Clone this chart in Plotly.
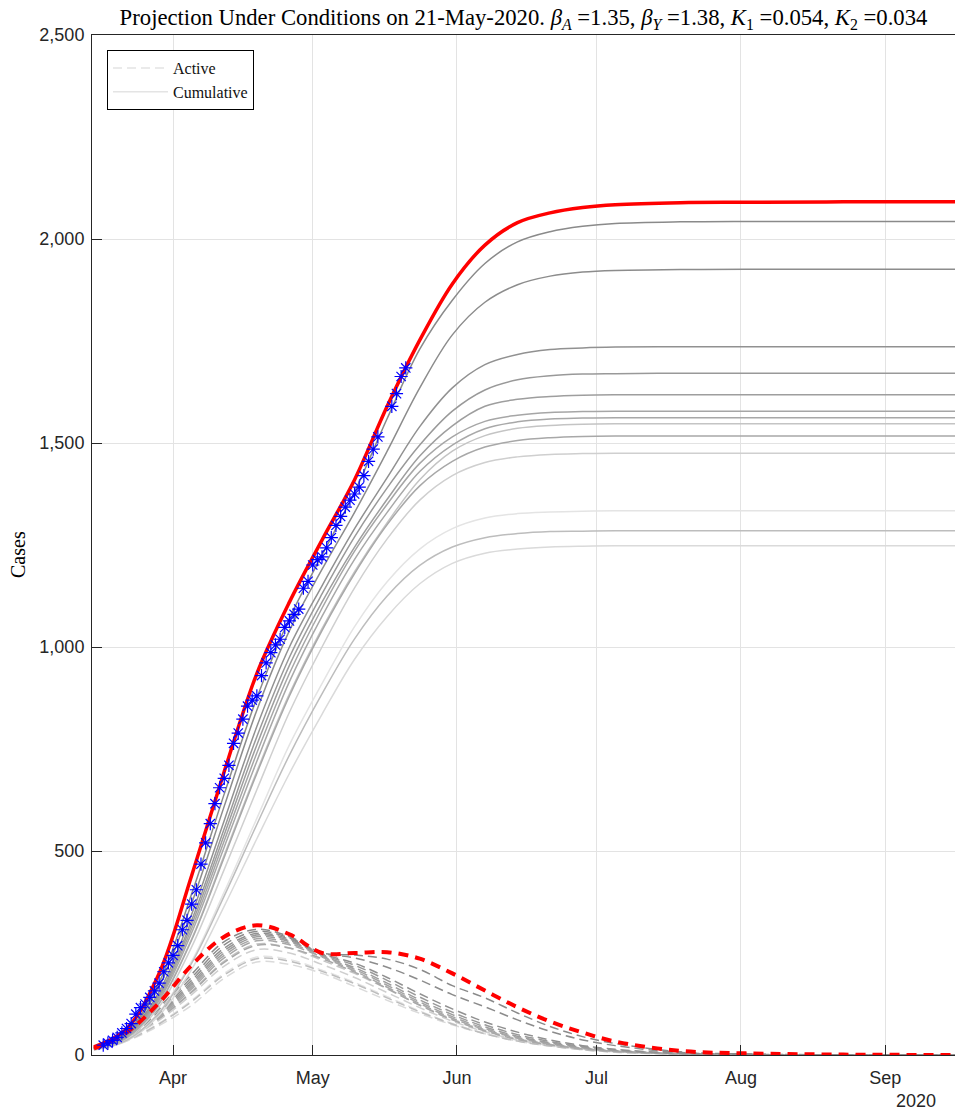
import plotly.graph_objects as go

# ---------------- data ----------------
grid_dates = ["2020-03-15", "2020-03-22", "2020-03-29", "2020-04-05", "2020-04-12",
              "2020-04-19", "2020-04-26", "2020-05-03", "2020-05-10", "2020-05-17",
              "2020-05-24", "2020-05-31", "2020-06-07", "2020-06-14", "2020-06-21",
              "2020-06-28", "2020-07-05", "2020-07-19", "2020-08-02", "2020-08-23",
              "2020-09-16"]

# latest projection (21-May-2020), red
red_cum = [20, 64, 200, 440, 695, 935, 1110, 1262, 1410, 1590, 1752, 1890, 1985, 2040,
           2064, 2077, 2084, 2089, 2090, 2091, 2091]
red_act = [16, 55, 128, 220, 290, 318, 296, 250, 250, 252, 236, 200, 158, 117, 82, 55,
           33, 10, 4, 1, 0]

# earlier projections, cumulative (grey solid)
cum_g01 = [18, 56, 178, 395, 640, 875, 1070, 1225, 1380, 1560, 1730, 1850, 1940, 1993, 2018, 2031, 2038, 2042, 2043, 2043, 2043]
cum_g02 = [17, 53, 168, 372, 610, 845, 1040, 1190, 1330, 1480, 1635, 1765, 1845, 1888, 1909, 1919, 1923, 1925, 1926, 1926, 1926]
cum_g03 = [17, 50, 155, 345, 575, 805, 1000, 1150, 1290, 1415, 1540, 1635, 1692, 1717, 1729, 1733, 1735, 1736, 1736, 1736, 1736]
cum_g04 = [16, 48, 148, 330, 555, 780, 975, 1130, 1270, 1390, 1495, 1578, 1630, 1655, 1665, 1669, 1670, 1671, 1671, 1671, 1671]
cum_g05 = [16, 46, 143, 320, 540, 760, 955, 1110, 1245, 1362, 1468, 1542, 1590, 1607, 1614, 1617, 1618, 1618, 1618, 1618, 1618]
cum_g06 = [15, 45, 138, 310, 525, 740, 935, 1095, 1235, 1350, 1450, 1515, 1553, 1568, 1575, 1577, 1578, 1578, 1578, 1578, 1578]
cum_g07 = [15, 44, 134, 300, 510, 720, 915, 1075, 1215, 1330, 1430, 1495, 1535, 1552, 1559, 1561, 1562, 1562, 1562, 1562, 1562]
cum_g08 = [14, 42, 128, 285, 490, 695, 885, 1045, 1185, 1305, 1410, 1480, 1518, 1536, 1543, 1546, 1547, 1547, 1547, 1547, 1547]
cum_g09 = [14, 42, 126, 282, 485, 690, 880, 1040, 1180, 1300, 1395, 1455, 1490, 1506, 1513, 1516, 1517, 1517, 1517, 1517, 1517]
cum_g10 = [14, 40, 118, 265, 455, 650, 840, 1000, 1145, 1265, 1360, 1420, 1452, 1466, 1472, 1474, 1475, 1475, 1475, 1475, 1475]
cum_g11 = [13, 37, 105, 230, 400, 580, 760, 910, 1050, 1160, 1240, 1290, 1316, 1327, 1331, 1333, 1334, 1334, 1334, 1334, 1334]
cum_g12 = [13, 36, 103, 225, 390, 565, 735, 885, 1020, 1125, 1200, 1245, 1268, 1278, 1283, 1284, 1285, 1285, 1285, 1285, 1285]
cum_g13 = [12, 34, 97, 210, 365, 530, 690, 835, 970, 1075, 1155, 1205, 1230, 1240, 1245, 1247, 1248, 1248, 1248, 1248, 1248]

# earlier projections, active (grey dashed)
act_g01 = [16, 50, 118, 198, 278, 308, 290, 250, 245, 235, 210, 170, 140, 103, 70, 45, 28, 8, 2.5, 0.5, 0]
act_g02 = [16, 48, 112, 190, 270, 303, 287, 250, 238, 215, 184, 148, 118, 86, 58, 37, 23, 6, 2, 0.3, 0]
act_g03 = [15, 46, 106, 183, 262, 298, 284, 248, 225, 190, 150, 113, 81, 56, 37, 23, 14, 4, 1, 0, 0]
act_g04 = [15, 45, 102, 177, 256, 294, 281, 246, 220, 183, 142, 105, 74, 50, 33, 21, 12, 4, 1, 0, 0]
act_g05 = [15, 44, 99, 172, 250, 290, 278, 244, 214, 176, 135, 99, 69, 46, 30, 19, 11, 3, 1, 0, 0]
act_g06 = [14, 43, 96, 167, 244, 285, 274, 242, 210, 171, 130, 94, 65, 43, 28, 17, 10, 3, 1, 0, 0]
act_g07 = [14, 42, 93, 162, 238, 280, 270, 240, 206, 166, 126, 90, 62, 41, 26, 16, 9, 3, 1, 0, 0]
act_g08 = [14, 41, 90, 156, 230, 272, 262, 232, 200, 162, 123, 88, 61, 40, 26, 16, 9, 3, 1, 0, 0]
act_g09 = [14, 41, 89, 154, 227, 269, 262, 236, 203, 163, 122, 86, 59, 38, 25, 15, 9, 3, 1, 0, 0]
act_g10 = [13, 40, 85, 148, 218, 258, 250, 222, 190, 153, 116, 83, 57, 37, 24, 15, 8, 2, 1, 0, 0]
act_g11 = [13, 37, 78, 134, 200, 240, 234, 208, 178, 143, 108, 77, 53, 35, 22, 14, 8, 2, 0.5, 0, 0]
act_g12 = [13, 36, 76, 131, 196, 236, 230, 205, 175, 140, 106, 76, 52, 34, 22, 13, 7, 2, 0.5, 0, 0]
act_g13 = [12, 34, 72, 122, 188, 228, 222, 200, 168, 134, 102, 74, 52, 34, 22, 13, 7, 2, 0.5, 0, 0]

# observed cumulative cases (blue asterisks)
obs_dates = ["2020-03-17", "2020-03-18", "2020-03-19", "2020-03-20", "2020-03-21", "2020-03-22",
             "2020-03-23", "2020-03-24", "2020-03-25", "2020-03-26", "2020-03-27", "2020-03-28",
             "2020-03-29", "2020-03-30", "2020-03-31", "2020-04-01", "2020-04-02", "2020-04-03",
             "2020-04-04", "2020-04-05", "2020-04-06", "2020-04-07", "2020-04-08", "2020-04-09",
             "2020-04-10", "2020-04-11", "2020-04-12", "2020-04-13", "2020-04-14", "2020-04-15",
             "2020-04-16", "2020-04-17", "2020-04-18", "2020-04-19", "2020-04-20", "2020-04-21",
             "2020-04-22", "2020-04-23", "2020-04-24", "2020-04-25", "2020-04-26", "2020-04-27",
             "2020-04-28", "2020-04-29", "2020-04-30", "2020-05-01", "2020-05-02", "2020-05-03",
             "2020-05-04", "2020-05-05", "2020-05-06", "2020-05-07", "2020-05-08", "2020-05-09",
             "2020-05-10", "2020-05-11", "2020-05-12", "2020-05-13", "2020-05-14", "2020-05-15",
             "2020-05-18", "2020-05-19", "2020-05-20", "2020-05-21"]
obs_cases = [24, 29, 36, 43, 54, 65, 77, 100, 116, 125, 141, 157, 176, 204, 226, 244, 268, 307,
             330, 370, 405, 468, 520, 567, 616, 655, 678, 710, 764, 789, 823, 855, 870, 880,
             930, 961, 986, 1005, 1019, 1048, 1064, 1080, 1093, 1144, 1161, 1201, 1214, 1221,
             1243, 1268, 1298, 1320, 1343, 1360, 1375, 1392, 1420, 1455, 1485, 1515, 1590, 1621,
             1663, 1684]

month_ticks = ["2020-04-01", "2020-05-01", "2020-06-01", "2020-07-01", "2020-08-01", "2020-09-01"]
month_labels = ["Apr", "May", "Jun", "Jul", "Aug", "Sep"]
y_ticks = [0, 500, 1000, 1500, 2000, 2500]

cum_series = [cum_g01, cum_g02, cum_g03, cum_g04, cum_g05, cum_g06, cum_g07,
              cum_g08, cum_g09, cum_g10, cum_g11, cum_g12, cum_g13]
act_series = [act_g01, act_g02, act_g03, act_g04, act_g05, act_g06, act_g07,
              act_g08, act_g09, act_g10, act_g11, act_g12, act_g13]

# ---------------- styles ----------------
grey_colors = ["#8a8a8a", "#8c8c8c", "#919191", "#999999", "#9e9e9e", "#a6a6a6", "#a8a8a8",
               "#c4c4c4", "#a8a8a8", "#cfcfcf", "#e4e4e4", "#bdbdbd", "#dadada"]
legend_idx = 10
SERIF = "Liberation Serif"
SANS = "Liberation Sans"
AX = "#262626"

fig = go.Figure()

# draw lightest first, darker last
order = sorted(range(13), key=lambda i: -int(grey_colors[i][1:3], 16))
for i in order:
    fig.add_trace(go.Scatter(
        x=grid_dates, y=act_series[i], mode="lines",
        line=dict(color=grey_colors[i], width=1.5, dash="9px,5px", shape="spline", smoothing=1.0),
        name="Active", showlegend=(i == legend_idx), legendrank=1, hoverinfo="skip"))
for i in order:
    fig.add_trace(go.Scatter(
        x=grid_dates, y=cum_series[i], mode="lines",
        line=dict(color=grey_colors[i], width=1.5, shape="spline", smoothing=1.0),
        name="Cumulative", showlegend=(i == legend_idx), legendrank=2, hoverinfo="skip"))

fig.add_trace(go.Scatter(
    x=grid_dates, y=red_cum, mode="lines",
    line=dict(color="#ff0000", width=3.5, shape="spline", smoothing=1.0),
    showlegend=False, hoverinfo="skip"))
fig.add_trace(go.Scatter(
    x=grid_dates, y=red_act, mode="lines",
    line=dict(color="#ff0000", width=4, dash="10px,7px", shape="spline", smoothing=1.0),
    showlegend=False, hoverinfo="skip"))
fig.add_trace(go.Scatter(
    x=obs_dates, y=obs_cases, mode="markers",
    marker=dict(symbol="asterisk-open", size=11, color="#0000ff",
                line=dict(color="#0000ff", width=1.2)),
    showlegend=False, hoverinfo="skip"))

L, R, T, B = 92, 0, 35, 63
W, H = 955, 1118
pw, ph = W - L - R, H - T - B

fig.update_layout(
    width=W, height=H,
    margin=dict(l=L, r=R, t=T, b=B),
    paper_bgcolor="white", plot_bgcolor="white",
    title=dict(
        text=("Projection Under Conditions on 21-May-2020. "
              "<i>β</i><sub><i>A</i></sub> =1.35, <i>β</i><sub><i>Y</i></sub> =1.38, "
              "<i>K</i><sub>1</sub> =0.054, <i>K</i><sub>2</sub> =0.034"),
        x=0.5, xref="paper", xanchor="center",
        y=1 - 17 / H, yref="container", yanchor="middle",
        font=dict(family=SERIF, size=22.7, color="#000000")),
    legend=dict(
        x=(107 - L) / pw, y=1 - (50 - T) / ph, xanchor="left", yanchor="top",
        bgcolor="white", bordercolor="#000000", borderwidth=1,
        font=dict(family=SERIF, size=16, color="#111111"),
        itemwidth=55, tracegroupgap=0),
    xaxis=dict(
        type="date", range=["2020-03-14 14:00", "2020-09-16"],
        tickmode="array", tickvals=month_ticks, ticktext=month_labels,
        ticks="inside", ticklen=10, tickcolor=AX, tickwidth=1,
        showgrid=True, gridcolor="#e3e3e3", gridwidth=1,
        showline=True, linecolor=AX, linewidth=1, mirror=True,
        zeroline=False, ticklabelstandoff=6,
        tickfont=dict(family=SANS, size=18, color=AX)),
    yaxis=dict(
        range=[0, 2500], tickmode="array", tickvals=y_ticks, tickformat=",d",
        ticks="inside", ticklen=10, tickcolor=AX, tickwidth=1,
        showgrid=True, gridcolor="#e3e3e3", gridwidth=1,
        showline=True, linecolor=AX, linewidth=1, mirror=False,
        zeroline=False, ticklabelstandoff=3,
        tickfont=dict(family=SANS, size=18, color=AX)),
    annotations=[
        dict(text="2020", x=(916 - L) / pw, y=-(1101 - (T + ph)) / ph,
             xref="paper", yref="paper", xanchor="center", yanchor="middle",
             showarrow=False, font=dict(family=SANS, size=18, color=AX)),
        dict(text="Cases", x=(18 - L) / pw, y=1 - (555 - T) / ph,
             xref="paper", yref="paper", xanchor="center", yanchor="middle",
             textangle=-90, showarrow=False,
             font=dict(family=SERIF, size=20, color="#000000")),
    ],
)

fig.write_html("out.html", config={"displayModeBar": False},
               post_script="document.body.style.margin='0';document.body.style.overflow='hidden';")
